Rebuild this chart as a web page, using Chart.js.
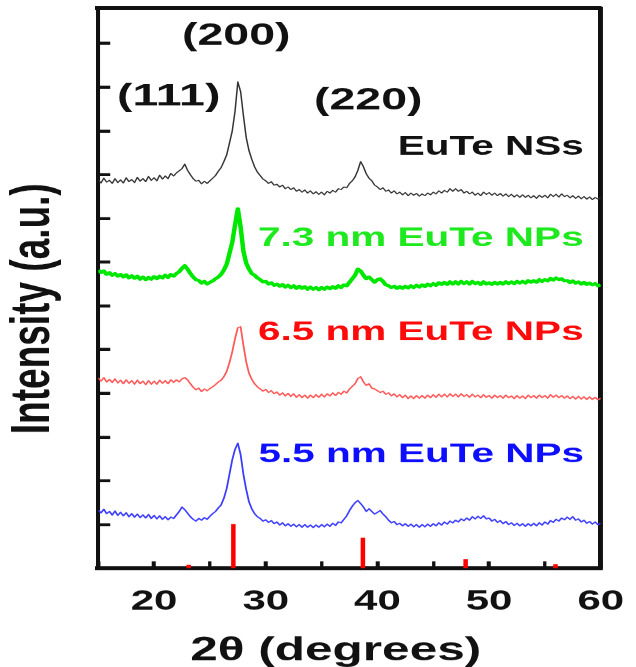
<!DOCTYPE html>
<html>
<head>
<meta charset="utf-8">
<script src="https://cdn.jsdelivr.net/npm/chart.js@4.4.1/dist/chart.umd.min.js"></script>
<style>
  html, body { margin: 0; padding: 0; background: #fff; }
  #xrd { display: block; }
</style>
</head>
<body>
<!-- the original figure is stretched sideways, so the canvas is drawn narrow and shown wide -->
<canvas id="xrd" width="424" height="667" style="width:636px;height:667px"></canvas>
<script>
// 2θ sampling (degrees)
const twoTheta = [
  15, 15.25, 15.5, 15.75, 16, 16.25, 16.5, 16.75, 17, 17.25, 17.5, 17.75, 18, 18.25, 18.5, 18.75, 19, 19.25, 19.5, 19.75,
  20, 20.25, 20.5, 20.75, 21, 21.25, 21.5, 21.75, 22, 22.25, 22.5, 22.75, 23, 23.25, 23.5, 23.75, 24, 24.25, 24.5, 24.75,
  25, 25.25, 25.5, 25.75, 26, 26.25, 26.5, 26.75, 27, 27.25, 27.5, 27.75, 28, 28.25, 28.5, 28.75, 29, 29.25, 29.5, 29.75,
  30, 30.25, 30.5, 30.75, 31, 31.25, 31.5, 31.75, 32, 32.25, 32.5, 32.75, 33, 33.25, 33.5, 33.75, 34, 34.25, 34.5, 34.75,
  35, 35.25, 35.5, 35.75, 36, 36.25, 36.5, 36.75, 37, 37.25, 37.5, 37.75, 38, 38.25, 38.5, 38.75, 39, 39.25, 39.5, 39.75,
  40, 40.25, 40.5, 40.75, 41, 41.25, 41.5, 41.75, 42, 42.25, 42.5, 42.75, 43, 43.25, 43.5, 43.75, 44, 44.25, 44.5, 44.75,
  45, 45.25, 45.5, 45.75, 46, 46.25, 46.5, 46.75, 47, 47.25, 47.5, 47.75, 48, 48.25, 48.5, 48.75, 49, 49.25, 49.5, 49.75,
  50, 50.25, 50.5, 50.75, 51, 51.25, 51.5, 51.75, 52, 52.25, 52.5, 52.75, 53, 53.25, 53.5, 53.75, 54, 54.25, 54.5, 54.75,
  55, 55.25, 55.5, 55.75, 56, 56.25, 56.5, 56.75, 57, 57.25, 57.5, 57.75, 58, 58.25, 58.5, 58.75, 59, 59.25, 59.5, 59.75,
  60
];

// intensities, already offset (a.u.)
const nss = [
  8.88, 8.81, 8.92, 8.83, 8.87, 8.80, 8.91, 8.82, 8.88, 8.81, 8.93, 8.84, 8.89, 8.82, 8.94, 8.85, 8.91, 8.84, 8.96, 8.87,
  8.93, 8.86, 8.99, 8.90, 8.97, 8.91, 9.03, 8.97, 9.04, 9.09, 9.14, 9.24, 9.10, 9.00, 8.91, 8.85, 8.87, 8.79, 8.85, 8.80,
  8.86, 8.92, 8.98, 9.08, 9.16, 9.30, 9.45, 9.72, 10.00, 10.45, 11.12, 10.90, 10.35, 9.85, 9.55, 9.35, 9.18, 9.06, 8.98, 8.90,
  8.86, 8.80, 8.84, 8.76, 8.78, 8.72, 8.76, 8.68, 8.72, 8.66, 8.70, 8.62, 8.66, 8.60, 8.65, 8.58, 8.63, 8.56, 8.61, 8.55,
  8.60, 8.54, 8.62, 8.58, 8.64, 8.60, 8.68, 8.66, 8.72, 8.70, 8.80, 8.86, 8.95, 9.10, 9.30, 9.18, 9.02, 8.92, 8.86, 8.76,
  8.72, 8.66, 8.70, 8.62, 8.65, 8.58, 8.63, 8.56, 8.60, 8.54, 8.59, 8.52, 8.58, 8.53, 8.57, 8.51, 8.56, 8.52, 8.58, 8.54,
  8.60, 8.56, 8.63, 8.58, 8.64, 8.60, 8.68, 8.62, 8.68, 8.62, 8.66, 8.58, 8.62, 8.56, 8.60, 8.53, 8.58, 8.52, 8.60, 8.55,
  8.59, 8.53, 8.58, 8.52, 8.57, 8.51, 8.56, 8.50, 8.55, 8.49, 8.54, 8.48, 8.54, 8.48, 8.53, 8.47, 8.52, 8.46, 8.53, 8.48,
  8.53, 8.47, 8.55, 8.50, 8.55, 8.49, 8.56, 8.50, 8.53, 8.47, 8.52, 8.46, 8.51, 8.45, 8.50, 8.44, 8.49, 8.43, 8.48, 8.44,
  8.47
];
const np73 = [
  6.82, 6.76, 6.80, 6.72, 6.76, 6.70, 6.74, 6.68, 6.72, 6.66, 6.71, 6.64, 6.69, 6.63, 6.68, 6.61, 6.66, 6.60, 6.65, 6.61,
  6.67, 6.62, 6.68, 6.64, 6.70, 6.65, 6.72, 6.68, 6.74, 6.78, 6.86, 6.92, 6.84, 6.74, 6.66, 6.60, 6.58, 6.52, 6.56, 6.50,
  6.54, 6.57, 6.62, 6.66, 6.72, 6.82, 6.95, 7.20, 7.45, 7.85, 8.22, 7.80, 7.25, 6.98, 6.84, 6.74, 6.70, 6.64, 6.60, 6.55,
  6.56, 6.50, 6.53, 6.47, 6.50, 6.45, 6.49, 6.43, 6.47, 6.42, 6.46, 6.40, 6.45, 6.40, 6.44, 6.38, 6.43, 6.38, 6.42, 6.37,
  6.42, 6.38, 6.43, 6.39, 6.44, 6.40, 6.46, 6.42, 6.48, 6.46, 6.54, 6.62, 6.70, 6.84, 6.80, 6.70, 6.62, 6.66, 6.60, 6.54,
  6.60, 6.62, 6.56, 6.48, 6.46, 6.42, 6.45, 6.40, 6.44, 6.40, 6.45, 6.41, 6.46, 6.42, 6.47, 6.43, 6.48, 6.44, 6.50, 6.46,
  6.51, 6.47, 6.53, 6.49, 6.54, 6.49, 6.55, 6.50, 6.55, 6.50, 6.56, 6.51, 6.55, 6.50, 6.56, 6.51, 6.54, 6.49, 6.55, 6.50,
  6.53, 6.49, 6.54, 6.50, 6.54, 6.50, 6.55, 6.51, 6.55, 6.51, 6.56, 6.52, 6.56, 6.52, 6.58, 6.54, 6.58, 6.54, 6.60, 6.56,
  6.60, 6.57, 6.63, 6.59, 6.64, 6.60, 6.62, 6.57, 6.58, 6.53, 6.57, 6.52, 6.55, 6.50, 6.54, 6.49, 6.52, 6.48, 6.51, 6.46,
  6.48
];
const np65 = [
  4.35, 4.28, 4.36, 4.26, 4.32, 4.25, 4.33, 4.24, 4.30, 4.22, 4.31, 4.23, 4.29, 4.21, 4.30, 4.22, 4.28, 4.20, 4.29, 4.21,
  4.28, 4.21, 4.30, 4.23, 4.29, 4.22, 4.31, 4.25, 4.31, 4.26, 4.33, 4.36, 4.31, 4.22, 4.14, 4.08, 4.12, 4.04, 4.10, 4.06,
  4.11, 4.15, 4.20, 4.26, 4.30, 4.38, 4.50, 4.70, 4.95, 5.25, 5.50, 5.52, 5.10, 4.72, 4.46, 4.32, 4.22, 4.15, 4.10, 4.05,
  4.09, 4.02, 4.06, 3.99, 4.03, 3.96, 4.01, 3.94, 4.00, 3.93, 3.99, 3.91, 3.97, 3.90, 3.96, 3.89, 3.96, 3.90, 3.97, 3.91,
  3.98, 3.92, 3.99, 3.94, 4.01, 3.95, 4.02, 3.98, 4.05, 4.01, 4.10, 4.16, 4.22, 4.34, 4.38, 4.26, 4.18, 4.22, 4.12, 4.10,
  4.06, 4.02, 4.05, 3.98, 4.01, 3.94, 3.99, 3.92, 3.97, 3.90, 3.96, 3.88, 3.94, 3.88, 3.95, 3.89, 3.95, 3.89, 3.96, 3.90,
  3.97, 3.91, 3.98, 3.92, 3.98, 3.92, 3.99, 3.93, 3.98, 3.92, 3.99, 3.93, 3.97, 3.91, 3.98, 3.92, 3.96, 3.90, 3.97, 3.91,
  3.95, 3.89, 3.96, 3.90, 3.95, 3.89, 3.96, 3.90, 3.94, 3.88, 3.95, 3.89, 3.94, 3.88, 3.96, 3.90, 3.95, 3.89, 3.96, 3.90,
  3.95, 3.89, 3.97, 3.91, 3.96, 3.90, 3.95, 3.89, 3.94, 3.88, 3.93, 3.87, 3.93, 3.87, 3.92, 3.86, 3.92, 3.86, 3.91, 3.85,
  3.89
];
const np55 = [
  1.33, 1.27, 1.35, 1.25, 1.30, 1.22, 1.31, 1.21, 1.28, 1.20, 1.27, 1.18, 1.25, 1.17, 1.24, 1.16, 1.22, 1.15, 1.23, 1.14,
  1.21, 1.13, 1.20, 1.12, 1.18, 1.11, 1.17, 1.14, 1.22, 1.30, 1.40, 1.34, 1.26, 1.18, 1.12, 1.08, 1.14, 1.10, 1.16, 1.12,
  1.19, 1.25, 1.30, 1.38, 1.45, 1.60, 1.82, 2.15, 2.48, 2.72, 2.86, 2.60, 2.15, 1.80, 1.52, 1.36, 1.25, 1.18, 1.14, 1.08,
  1.11, 1.05, 1.09, 1.02, 1.06, 0.99, 1.04, 0.97, 1.02, 0.96, 1.01, 0.95, 1.00, 0.94, 1.00, 0.94, 0.99, 0.93, 0.99, 0.94,
  1.00, 0.95, 1.01, 0.96, 1.03, 0.98, 1.06, 1.04, 1.12, 1.20, 1.32, 1.42, 1.50, 1.55, 1.48, 1.40, 1.30, 1.36, 1.30, 1.24,
  1.28, 1.32, 1.24, 1.18, 1.10, 1.04, 1.07, 1.00, 1.03, 0.97, 1.02, 0.96, 1.01, 0.95, 1.00, 0.94, 1.00, 0.95, 1.01, 0.96,
  1.02, 0.97, 1.04, 0.99, 1.06, 1.01, 1.08, 1.04, 1.10, 1.06, 1.13, 1.09, 1.15, 1.10, 1.18, 1.13, 1.19, 1.14, 1.20, 1.13,
  1.15, 1.08, 1.12, 1.05, 1.09, 1.02, 1.07, 1.00, 1.04, 0.98, 1.03, 0.97, 1.02, 0.96, 1.02, 0.97, 1.03, 0.97, 1.04, 0.99,
  1.06, 1.01, 1.09, 1.05, 1.12, 1.08, 1.15, 1.11, 1.17, 1.12, 1.18, 1.10, 1.13, 1.06, 1.10, 1.03, 1.07, 1.01, 1.06, 1.00,
  1.03
];

// reference pattern sticks (position, relative height)
const refPos = [23.1, 27.1, 38.7, 47.9, 55.95];
const refHeight = [0.08, 1.01, 0.70, 0.21, 0.09];

const xLabelValues = [20, 30, 40, 50, 60];
const peakNames = ['(111)', '(200)', '(220)'];
const sampleNames = ['EuTe NSs', '7.3 nm EuTe NPs', '6.5 nm EuTe NPs', '5.5 nm EuTe NPs'];

// where the labels sit, in data units
const peakLabelAt = [[21.31, 10.78], [27.36, 12.17], [39.18, 10.69]];
const sampleLabelAt = [[50.16, 9.62], [43.89, 7.53], [43.89, 5.38], [43.93, 2.59]];
const sampleColors = ['#111111', '#1ee81e', '#ff0a0a', '#0d0dff'];

const toPoints = ys => twoTheta.map((t, i) => ({ x: t, y: ys[i] }));
const sticks = refPos.flatMap((p, i) => [{ x: p, y: 0 }, { x: p, y: refHeight[i] }, { x: p, y: null }]);

const labelPlugin = {
  id: 'xrdLabels',
  afterDatasetsDraw(chart) {
    const { ctx, scales: { x, y } } = chart;
    ctx.save();
    ctx.textAlign = 'center';
    ctx.textBaseline = 'middle';
    ctx.fillStyle = '#111';
    ctx.font = 'bold 31px "Liberation Sans", Arial, sans-serif';
    peakNames.forEach((t, i) => {
      ctx.fillText(t, x.getPixelForValue(peakLabelAt[i][0]), y.getPixelForValue(peakLabelAt[i][1]));
    });
    ctx.font = 'bold 27px "Liberation Sans", Arial, sans-serif';
    sampleNames.forEach((t, i) => {
      ctx.fillStyle = sampleColors[i];
      ctx.fillText(t, x.getPixelForValue(sampleLabelAt[i][0]), y.getPixelForValue(sampleLabelAt[i][1]));
    });
    ctx.restore();
  }
};

Chart.defaults.font.family = '"Liberation Sans", Arial, sans-serif';
Chart.defaults.color = '#111';

const line = (data, color, width) => ({
  data, borderColor: color, borderWidth: width, pointRadius: 0, tension: 0,
  borderJoinStyle: 'round', xAxisID: 'x', yAxisID: 'y'
});

new Chart(document.getElementById('xrd'), {
  type: 'line',
  data: {
    datasets: [
      line(toPoints(nss), '#333333', 1),
      line(toPoints(np73), '#00e800', 3),
      line(toPoints(np65), '#ff5a5a', 1.2),
      line(toPoints(np55), '#3c3cff', 1.2),
      { ...line(sticks, '#ff0000', 3), spanGaps: false, borderCapStyle: 'butt', borderJoinStyle: 'miter' }
    ]
  },
  options: {
    responsive: false,
    devicePixelRatio: 1.5,
    animation: false,
    events: [],
    layout: { padding: 0 },
    plugins: { legend: { display: false }, tooltip: { enabled: false } },
    scales: {
      x: {
        type: 'linear', position: 'bottom', min: 15, max: 60,
        // fixed height, and let the "60" label hang past the frame
        afterFit: s => { s.height = 99; s.paddingLeft = 0; s.paddingRight = 0; },
        ticks: {
          stepSize: 5, autoSkip: false, maxRotation: 0, padding: 24, color: '#111',
          font: { size: 28, weight: 'bold' },
          callback: v => xLabelValues.includes(v) ? String(v) : ''
        },
        grid: {
          drawOnChartArea: false, tickLength: -7, tickColor: '#111',
          tickWidth: c => (c.tick && c.tick.value % 10 === 0) ? 2.7 : 2.2
        },
        border: { color: '#111', width: 4 },
        title: {
          // trailing spaces nudge the centred title a little left, as in the figure
          display: true, text: '2θ (degrees)  ', color: '#111',
          font: { size: 33, weight: 'bold' }, padding: { top: 0, bottom: -4 }
        }
      },
      y: {
        type: 'linear', position: 'left', min: 0, max: 12.81,
        afterFit: s => { s.width = 65.5; },
        ticks: { display: false, stepSize: 1, includeBounds: false },
        grid: { drawOnChartArea: false, tickLength: -8, tickWidth: 3, tickColor: '#111' },
        border: { color: '#111', width: 2.7 },
        title: {
          display: true, text: 'Intensity (a.u.)    ', color: '#111',
          font: { size: 37, weight: 'bold' }, padding: { top: 0, bottom: 0 }
        }
      },
      x2: {
        type: 'linear', position: 'top', min: 15, max: 60,
        afterFit: s => { s.height = 8; },
        ticks: { display: false }, grid: { display: false },
        border: { color: '#111', width: 4 }
      },
      y2: {
        type: 'linear', position: 'right', min: 0, max: 12.81,
        afterFit: s => { s.width = 23.5; },
        ticks: { display: false }, grid: { display: false },
        border: { color: '#111', width: 3.3 }
      }
    }
  },
  plugins: [labelPlugin]
});
</script>
</body>
</html>
